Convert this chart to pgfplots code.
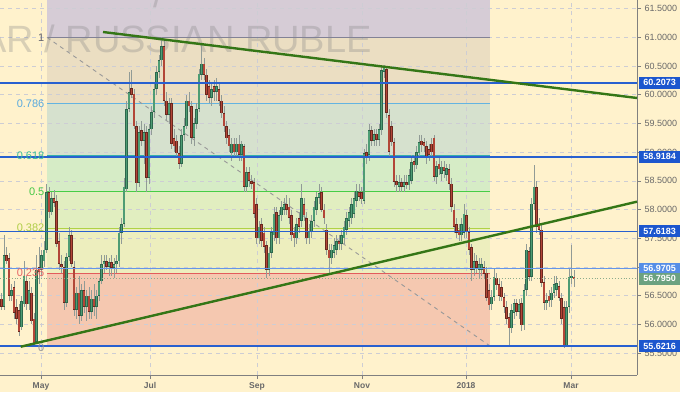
\documentclass[border=0pt]{standalone}
\usepackage{fontspec}
\setmainfont{Liberation Sans}
\usepackage{xcolor}
\usepackage{pgfplots}
\usepackage{pgfplotstable}
\pgfplotsset{compat=1.18}
\definecolor{bg}{RGB}{255,242,204}
\definecolor{fibtop}{RGB}{214,204,214}
\definecolor{fibA}{RGB}{235,222,194}
\definecolor{fibB}{RGB}{214,225,206}
\definecolor{fibC}{RGB}{214,236,198}
\definecolor{fibD}{RGB}{225,238,192}
\definecolor{fibE}{RGB}{237,238,190}
\definecolor{fibF}{RGB}{245,200,176}
\definecolor{axisgray}{RGB}{128,128,128}
\definecolor{ticktext}{RGB}{105,105,105}
\definecolor{gridc}{RGB}{205,205,212}
\definecolor{wick}{RGB}{145,155,150}
\definecolor{upout}{RGB}{44,104,76}
\definecolor{upin}{RGB}{78,156,116}
\definecolor{dnout}{RGB}{104,40,30}
\definecolor{dnin}{RGB}{178,70,56}
\definecolor{lineblue}{RGB}{40,96,208}
\definecolor{lightblue}{RGB}{100,150,232}
\definecolor{boxblue}{RGB}{28,86,206}
\definecolor{boxlight}{RGB}{86,142,230}
\definecolor{boxgreen}{RGB}{108,162,128}
\definecolor{dotgreen}{RGB}{140,172,140}
\definecolor{trend}{RGB}{52,118,22}
\definecolor{l1}{RGB}{130,130,150}
\definecolor{l786}{RGB}{100,180,225}
\definecolor{l618}{RGB}{50,175,175}
\definecolor{l5}{RGB}{70,205,70}
\definecolor{l382}{RGB}{175,210,70}
\definecolor{l236}{RGB}{226,92,92}
\definecolor{t1}{RGB}{100,100,110}
\definecolor{t786}{RGB}{90,170,222}
\definecolor{t618}{RGB}{60,190,150}
\definecolor{t5}{RGB}{70,200,70}
\definecolor{t382}{RGB}{175,205,70}
\definecolor{t236}{RGB}{230,100,100}
\definecolor{t0}{RGB}{150,150,150}
\pagecolor{bg}

\pgfplotstableread{
x o h l c
4 56.30 57.55 56.25 57.20
11.5 56.50 56.70 56.40 56.60
21.5 55.95 56.50 55.90 56.40
24 56.35 57.10 56.30 56.85
29 56.35 56.75 56.25 56.60
36.5 55.70 57.20 55.65 56.95
41.5 56.95 57.30 56.85 57.20
44 57.10 57.45 57.00 57.30
46.5 57.30 58.45 57.25 58.30
51.5 57.95 58.30 57.90 58.20
66.5 56.37 57.25 56.30 57.17
69 57.17 57.70 57.10 57.55
76.5 56.25 56.65 56.10 56.55
81.5 56.15 56.70 56.05 56.60
86.5 56.30 56.60 56.05 56.50
91.5 56.22 56.60 56.10 56.45
96.5 56.30 56.60 56.10 56.50
99 56.50 56.80 56.40 56.75
101.5 56.75 57.20 56.70 57.05
104 57.05 57.20 56.90 57.10
109 57.00 57.15 56.85 57.08
114 56.98 57.15 56.80 57.05
116.5 57.05 57.20 56.90 57.10
119 57.10 57.70 57.00 57.60
121.5 57.60 57.85 57.40 57.75
124 57.75 58.55 57.70 58.40
126.5 58.35 59.90 58.30 59.75
129 59.75 60.40 59.70 60.05
139 58.46 59.45 58.40 59.35
144 59.20 59.50 58.80 59.35
149 58.55 59.50 58.45 59.40
151.5 59.40 59.80 59.30 59.70
154 59.70 60.20 59.60 60.10
156.5 60.10 60.50 60.00 60.40
159 60.40 60.70 60.30 60.60
161.5 60.60 61.00 60.50 60.85
169 59.65 59.95 59.50 59.85
181.5 58.80 59.40 58.75 59.30
184 59.30 59.60 59.20 59.45
186.5 59.45 60.00 59.40 59.90
194 59.25 59.60 59.10 59.50
196.5 59.50 59.85 59.40 59.75
199 59.75 60.45 59.70 60.37
201.5 60.35 60.90 60.25 60.54
211.5 59.95 60.20 59.80 60.10
216.5 60.05 60.30 59.90 60.15
231.5 58.98 59.25 58.85 59.15
236.5 59.00 59.25 58.90 59.15
241.5 58.95 59.20 58.85 59.15
246.5 58.40 58.75 58.30 58.65
259 57.50 57.80 57.40 57.70
269 56.95 57.35 56.85 57.25
271.5 57.25 57.70 57.15 57.60
274 57.55 58.05 57.45 57.93
279 57.50 58.00 57.40 57.90
281.5 57.90 58.15 57.80 58.05
284 58.00 58.20 57.90 58.10
296.5 57.50 57.85 57.40 57.75
301.5 57.80 58.45 57.70 58.20
309 57.50 57.75 57.40 57.62
311.5 57.60 57.90 57.50 57.80
314 57.80 58.15 57.70 58.05
316.5 58.00 58.30 57.90 58.22
319 58.20 58.45 58.10 58.28
331.5 57.15 57.40 57.05 57.30
334 57.25 57.50 57.15 57.38
336.5 57.30 57.55 57.20 57.45
341.5 57.40 57.65 57.30 57.55
344 57.50 57.80 57.40 57.70
346.5 57.65 57.95 57.55 57.85
349 57.80 58.05 57.70 57.95
351.5 57.85 58.20 57.75 58.10
354 57.93 58.30 57.85 58.20
356.5 58.15 58.45 58.05 58.33
364 58.15 59.05 58.10 58.98
369 58.95 59.50 58.85 59.38
374 59.20 59.40 59.10 59.32
379 59.22 59.50 59.10 59.40
381.5 59.38 60.50 59.30 60.43
384 60.40 60.52 60.30 60.48
399 58.40 58.60 58.30 58.48
404 58.40 58.60 58.30 58.48
409 58.42 58.70 58.35 58.60
411.5 58.50 58.95 58.45 58.83
416.5 58.77 59.10 58.70 59.00
419 58.98 59.30 58.90 59.18
436.5 58.57 58.85 58.45 58.75
441.5 58.62 58.85 58.50 58.75
446.5 58.60 58.80 58.50 58.72
461.5 57.55 57.85 57.45 57.75
464 57.60 58.10 57.50 57.93
474 56.95 57.25 56.85 57.10
479 56.95 57.15 56.80 57.05
481.5 56.95 57.15 56.85 57.05
491.5 56.35 56.60 56.25 56.48
494 56.48 56.98 56.40 56.83
511.5 55.93 56.35 55.85 56.25
514 56.20 56.45 56.10 56.37
519 56.22 56.45 56.10 56.35
524 55.98 56.70 55.90 56.60
526.5 56.60 57.40 56.50 57.30
531.5 56.83 58.20 56.75 58.10
534 58.10 58.77 58.00 58.40
546.5 56.37 56.55 56.25 56.42
551.5 56.42 56.65 56.30 56.55
554 56.55 56.85 56.45 56.70
556.5 56.60 56.85 56.50 56.72
566.5 55.62 56.40 55.60 56.30
569 56.30 56.98 56.20 56.83
571.5 56.80 57.38 56.70 56.85
}\upc

\pgfplotstableread{
x o h l c
1.5 56.45 56.55 56.25 56.30
6.5 57.20 57.35 57.05 57.10
9 57.15 57.25 56.40 56.50
14 56.65 56.75 56.10 56.20
16.5 56.30 56.45 56.00 56.10
19 56.25 56.35 55.80 55.87
26.5 56.75 56.85 56.25 56.35
31.5 56.55 56.65 56.00 56.05
34 56.10 56.20 55.62 55.67
39 57.00 57.35 56.70 56.92
49 58.30 58.40 57.85 57.95
54 58.20 58.35 58.05 58.12
56.5 58.15 58.25 57.35 57.40
59 57.45 57.60 56.95 57.05
61.5 57.05 57.20 56.90 57.00
64 57.00 57.10 56.25 56.37
71.5 57.55 57.65 57.00 57.05
74 57.00 57.10 56.15 56.25
79 56.55 56.85 56.00 56.15
84 56.60 56.75 56.20 56.30
89 56.50 56.65 56.10 56.22
94 56.45 56.70 56.15 56.30
106.5 57.10 57.20 56.95 57.00
111.5 57.08 57.20 56.85 56.98
131.5 60.12 60.43 59.95 60.00
134 60.02 60.10 59.40 59.45
136.5 59.45 59.55 58.30 58.46
141.5 59.38 59.55 59.10 59.20
146.5 59.35 59.45 58.30 58.55
164 60.85 60.95 59.80 59.90
166.5 59.90 60.05 59.55 59.65
171.5 59.85 59.95 59.05 59.15
174 59.25 59.40 59.00 59.10
176.5 59.20 59.30 58.90 58.98
179 58.98 59.10 58.70 58.80
189 59.90 60.05 59.70 59.80
191.5 59.80 59.90 59.15 59.25
204 60.54 60.65 60.25 60.35
206.5 60.35 60.45 59.90 60.00
209 60.15 60.25 59.85 59.95
214 60.15 60.25 59.90 60.05
219 60.10 60.20 59.80 59.90
221.5 59.90 60.00 59.60 59.68
224 59.68 59.80 59.35 59.45
226.5 59.45 59.55 59.15 59.24
229 59.30 59.40 59.00 59.10
234 59.15 59.25 58.90 59.00
239 59.15 59.30 58.85 58.95
244 59.10 59.15 58.30 58.40
249 58.65 58.75 58.40 58.50
251.5 58.50 58.60 58.35 58.45
254 58.48 58.55 57.85 57.93
256.5 58.10 58.20 57.40 57.50
261.5 57.75 57.85 57.35 57.45
264 57.60 57.70 57.25 57.35
266.5 57.38 57.45 56.80 56.95
276.5 57.95 58.05 57.40 57.50
286.5 58.10 58.25 57.90 58.00
289 58.05 58.20 57.75 57.85
291.5 57.90 58.00 57.45 57.55
294 57.60 57.70 57.35 57.50
299 57.85 57.95 57.60 57.70
304 58.10 58.20 57.80 57.90
306.5 57.85 57.95 57.40 57.50
321.5 58.30 58.40 57.95 58.00
324 58.00 58.10 57.75 57.85
326.5 57.65 57.75 57.20 57.30
329 57.30 57.40 56.90 57.15
339 57.45 57.55 57.30 57.40
359 58.30 58.45 58.15 58.22
361.5 58.30 58.40 58.10 58.18
366.5 59.00 59.15 58.80 58.92
371.5 59.38 59.45 59.10 59.20
376.5 59.32 59.40 59.10 59.22
386.5 60.45 60.50 59.60 59.68
389 59.65 59.75 58.90 59.00
391.5 59.45 59.55 59.10 59.17
394 59.17 59.25 58.40 58.48
396.5 58.50 58.60 58.30 58.42
401.5 58.48 58.55 58.30 58.40
406.5 58.48 58.60 58.35 58.42
414 58.85 58.95 58.65 58.77
421.5 59.20 59.30 59.00 59.12
424 59.18 59.25 59.00 59.10
426.5 59.10 59.20 58.80 58.90
429 59.05 59.15 58.85 58.95
431.5 59.15 59.25 58.90 59.00
434 59.25 59.30 58.50 58.57
439 58.80 58.90 58.60 58.70
444 58.75 58.85 58.55 58.68
449 58.70 58.80 58.35 58.45
451.5 58.45 58.55 57.95 58.05
454 58.00 58.10 57.60 57.70
456.5 57.75 57.85 57.50 57.60
459 57.65 57.75 57.45 57.55
466.5 57.90 58.00 57.50 57.60
469 57.60 57.70 57.20 57.30
471.5 57.34 57.40 56.75 56.95
476.5 57.10 57.20 56.90 56.98
484 57.00 57.10 56.80 56.88
486.5 56.90 57.00 56.40 56.46
489 56.60 56.70 56.25 56.33
496.5 56.80 56.90 56.60 56.68
499 56.70 56.80 56.40 56.50
501.5 56.65 56.75 56.40 56.47
504 56.47 56.55 56.20 56.30
506.5 56.30 56.40 56.00 56.10
509 56.12 56.20 55.60 55.93
516.5 56.37 56.45 56.15 56.22
521.5 56.37 56.45 55.88 55.98
529 57.28 57.35 56.75 56.83
536.5 58.39 58.50 57.60 57.70
539 57.75 57.85 57.55 57.65
541.5 57.65 57.75 56.65 56.72
544 56.74 56.85 56.25 56.37
549 56.50 56.60 56.30 56.40
559 56.67 56.75 56.40 56.46
561.5 56.46 56.55 56.00 56.10
564 56.30 56.40 55.58 55.62
574 56.83 56.95 56.65 56.79
}\dnc

\pgfplotsset{
  wickst/.style={draw=none, mark=none, forget plot,
    error bars/.cd, y dir=both, y explicit, error mark=none,
    error bar style={draw=wick, line width=0.7pt}},
  bodyst/.style 2 args={draw=none, mark=none, forget plot,
    error bars/.cd, y dir=both, y explicit, error mark=none,
    error bar style={draw=#1, line width=#2}},
  band/.style={draw=none, fill=#1, forget plot, on layer=axis background},
}
\tikzset{
  fiblab/.style={anchor=east, inner sep=0pt, font=\fontsize{11}{11}\selectfont},
  pricebox/.style={anchor=west, inner sep=0pt, minimum width=41pt, minimum height=12pt,
    text=white, font=\bfseries\fontsize{9}{9}\selectfont},
}

\begin{document}
\begin{tikzpicture}
\begin{axis}[
  at={(0,0)}, anchor=south west,
  scale only axis, width=637pt, height=375pt,
  xmin=0, xmax=637, ymin=55.1162, ymax=61.6516,
  clip=false, set layers,
  axis x line*=bottom, axis y line*=right,
  axis line style={draw=axisgray, line width=0.8pt},
  tick align=outside, major tick length=4pt,
  tick style={draw=axisgray, line width=0.6pt},
  xtick={41,150,257,362,466,571},
  xticklabels={May,Jul,Sep,Nov,2018,Mar},
  ytick={55.5,56,56.5,57,57.5,58,58.5,59,59.5,60,60.5,61,61.5},
  scaled y ticks=false,
  /pgf/number format/fixed, /pgf/number format/fixed zerofill,
  /pgf/number format/precision=4, /pgf/number format/assume math mode=true,
  yticklabel style={font=\fontsize{9}{10}\selectfont, text=ticktext},
  xticklabel style={font=\bfseries\fontsize{8.5}{10}\selectfont, text=ticktext},
  grid=major,
  major grid style={draw=gridc, dash pattern=on 4pt off 4pt, line width=0.6pt},
]
% fibonacci bands
\addplot[band=fibtop] coordinates {(47,61.0) (490,61.0) (490,61.6516) (47,61.6516)} -- cycle;
\addplot[band=fibA] coordinates {(47,59.849) (490,59.849) (490,61.0) (47,61.0)} -- cycle;
\addplot[band=fibB] coordinates {(47,58.9455) (490,58.9455) (490,59.849) (47,59.849)} -- cycle;
\addplot[band=fibC] coordinates {(47,58.3108) (490,58.3108) (490,58.9455) (47,58.9455)} -- cycle;
\addplot[band=fibD] coordinates {(47,57.6762) (490,57.6762) (490,58.3108) (47,58.3108)} -- cycle;
\addplot[band=fibE] coordinates {(47,56.8909) (490,56.8909) (490,57.6762) (47,57.6762)} -- cycle;
\addplot[band=fibF] coordinates {(47,55.6216) (490,55.6216) (490,56.8909) (47,56.8909)} -- cycle;

% watermark
\node[anchor=base east, inner sep=0pt, text=gray, opacity=0.3,
  font=\fontsize{38}{38}\selectfont] at (axis cs:372,60.745) {US DOLLAR / RUSSIAN RUBLE};
\node[anchor=base west, inner sep=0pt, text=gray, opacity=0.3,
  font=\fontsize{38}{38}\selectfont] at (axis cs:153,61.52) {/};

% fibonacci level lines
\addplot[l1, line width=0.9pt, forget plot] coordinates {(47,61.0) (490,61.0)};
\addplot[l786, line width=0.9pt, forget plot] coordinates {(47,59.849) (490,59.849)};
\addplot[l618, line width=0.9pt, forget plot] coordinates {(47,58.9455) (490,58.9455)};
\addplot[l5, line width=0.9pt, forget plot] coordinates {(47,58.3108) (490,58.3108)};
\addplot[l382, line width=0.9pt, forget plot] coordinates {(47,57.6762) (490,57.6762)};
\addplot[l236, line width=0.9pt, forget plot] coordinates {(47,56.8909) (490,56.8909)};
\addplot[gray!80, line width=0.9pt, dash pattern=on 4pt off 4pt, forget plot] coordinates {(47,61.0) (490,55.6216)};

% candles
\addplot[wickst] table[x=x, y expr={(\thisrow{h}+\thisrow{l})/2}, y error expr={(\thisrow{h}-\thisrow{l})/2}] {\upc};
\addplot[wickst] table[x=x, y expr={(\thisrow{h}+\thisrow{l})/2}, y error expr={(\thisrow{h}-\thisrow{l})/2}] {\dnc};
\addplot[bodyst={upout}{2.5pt}] table[x=x, y expr={(\thisrow{o}+\thisrow{c})/2}, y error expr={max(abs(\thisrow{c}-\thisrow{o})/2,0.015)}] {\upc};
\addplot[bodyst={upin}{1.2pt}] table[x=x, y expr={(\thisrow{o}+\thisrow{c})/2}, y error expr={max(abs(\thisrow{c}-\thisrow{o})/2-0.012,0.004)}] {\upc};
\addplot[bodyst={dnout}{2.5pt}] table[x=x, y expr={(\thisrow{o}+\thisrow{c})/2}, y error expr={max(abs(\thisrow{c}-\thisrow{o})/2,0.015)}] {\dnc};
\addplot[bodyst={dnin}{1.2pt}] table[x=x, y expr={(\thisrow{o}+\thisrow{c})/2}, y error expr={max(abs(\thisrow{c}-\thisrow{o})/2-0.012,0.004)}] {\dnc};

% horizontal levels
\addplot[lineblue, line width=1.6pt, forget plot] coordinates {(0,60.2073) (637,60.2073)};
\addplot[lineblue, line width=1.6pt, forget plot] coordinates {(0,58.9184) (637,58.9184)};
\addplot[lineblue, line width=1.6pt, forget plot] coordinates {(0,57.6183) (637,57.6183)};
\addplot[lightblue, line width=1.3pt, forget plot] coordinates {(0,56.9705) (637,56.9705)};
\addplot[dotgreen, line width=0.9pt, dotted, forget plot] coordinates {(0,56.7950) (637,56.7950)};
\addplot[lineblue, line width=1.6pt, forget plot] coordinates {(0,55.6216) (637,55.6216)};

% trend lines
\addplot[trend, line width=2.4pt, forget plot] coordinates {(103,61.094) (637,59.944)};
\addplot[trend, line width=2.4pt, forget plot] coordinates {(20.7,55.609) (637,58.137)};

% fib labels
\node[fiblab, text=t1] at (axis cs:44.5,61.0) {1};
\node[fiblab, text=t786] at (axis cs:44.5,59.849) {0.786};
\node[fiblab, text=t618] at (axis cs:44.5,58.9455) {0.618};
\node[fiblab, text=t5] at (axis cs:44.5,58.3108) {0.5};
\node[fiblab, text=t382] at (axis cs:44.5,57.6762) {0.382};
\node[fiblab, text=t236] at (axis cs:44.5,56.8909) {0.236};
\node[fiblab, text=t0] at (axis cs:44.5,55.60) {0};

% price boxes
\node[pricebox, fill=boxblue] at (axis cs:639,60.2073) {60.2073};
\node[pricebox, fill=boxblue] at (axis cs:639,58.9184) {58.9184};
\node[pricebox, fill=boxblue] at (axis cs:639,57.6183) {57.6183};
\node[pricebox, fill=boxlight] at (axis cs:639,56.9705) {56.9705};
\node[pricebox, fill=boxgreen] at (axis cs:639,56.7950) {56.7950};
\node[pricebox, fill=boxblue] at (axis cs:639,55.6216) {55.6216};
\end{axis}
\pgfresetboundingbox
\useasboundingbox (0,-17pt) rectangle (680pt,375pt);
\end{tikzpicture}
\end{document}
